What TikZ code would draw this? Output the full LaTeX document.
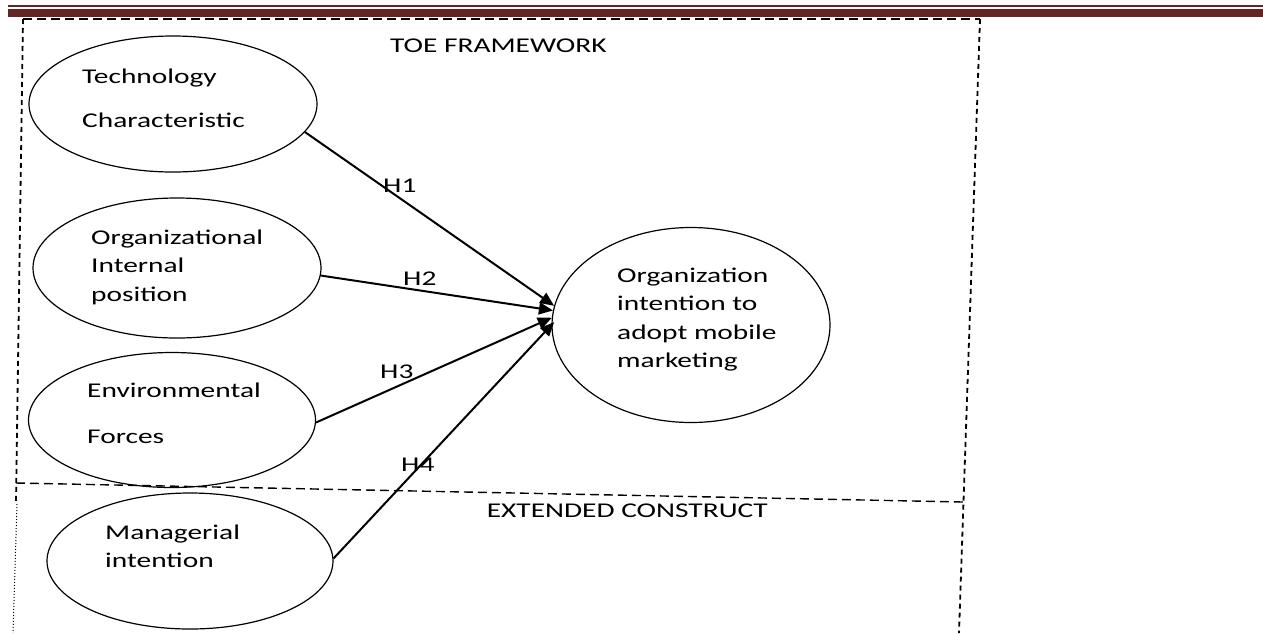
\documentclass[tikz,border=0pt]{standalone}
\usepackage{fontspec}
\setmainfont{Carlito}[FakeStretch=1.4]
\usetikzlibrary{arrows.meta,shapes.geometric}
\definecolor{barred}{RGB}{99,36,35}
\begin{document}
\begin{tikzpicture}[x=1pt,y=-1pt,
  construct/.style={draw,ellipse,line width=1.2pt,inner sep=0pt},
  txt/.style={anchor=base west,inner sep=0pt,font=\fontsize{21}{29}\selectfont},
  link/.style={line width=2pt,-{Triangle[length=14pt,width=12pt]}},
  hdash/.style={line width=1.4pt,dash pattern=on 9pt off 5pt},
  vdash/.style={line width=1.8pt,dash pattern=on 5pt off 4pt}]
\useasboundingbox (0,0) rectangle (1263,633);

% header rules
\fill[barred] (8,5) rectangle (1263,7);
\fill[barred] (8,9) rectangle (1263,16.5);

% framework boundaries
\coordinate (tl) at (23,19);
\coordinate (tr) at (980,19);
\coordinate (br) at (959,633);
\coordinate (ml) at (16,483);
\coordinate (mr) at (963,502);
\coordinate (bl) at (16,502);
\coordinate (dtop) at (17,504);
\coordinate (dbot) at (13,633);
\draw[hdash] (tl) -- (tr);
\draw[vdash] (tr) -- (br);
\draw[vdash] (tl) -- (bl);
\draw[hdash] (ml) -- (mr);
\draw[dotted,line width=1pt] (dtop) -- (dbot);

\node[txt] (toe) at (390,52) {TOE FRAMEWORK};
\node[txt,anchor=base east] (ext) at (768,517) {EXTENDED CONSTRUCT};

% constructs
\node[construct,minimum width=288pt,minimum height=136pt] (tech) at (173,104) {};
\node[construct,minimum width=288pt,minimum height=140pt] (orgint) at (177,268) {};
\node[construct,minimum width=287pt,minimum height=135pt] (env) at (172,420) {};
\node[construct,minimum width=286pt,minimum height=136pt] (mgr) at (190,561) {};
\node[construct,minimum width=278pt,minimum height=195pt] (adopt) at (691,325) {};

\node[txt] (tech1) at (82,83) {Technology};
\node[txt] (tech2) at (82,127) {Characteristic};
\node[txt] (org1) at (91,244) {Organizational};
\node[txt] (org2) at (91,272) {Internal};
\node[txt] (org3) at (91,301) {position};
\node[txt] (env1) at (87,397) {Environmental};
\node[txt] (env2) at (87,443) {Forces};
\node[txt] (mgr1) at (105,539) {Managerial};
\node[txt] (mgr2) at (105,567) {intention};
\node[txt] (ad1) at (617,282) {Organization};
\node[txt] (ad2) at (617,310) {intention to};
\node[txt] (ad3) at (617,339) {adopt mobile};
\node[txt] (ad4) at (617,367) {marketing};

% hypotheses
\draw[link] (tech.-12) -- (adopt.172);
\draw[link] (orgint.-3) -- (adopt.174);
\draw[link] (env.-1) -- (adopt.177);
\draw[link,shorten >=-4pt] (mgr.1) -- (adopt.180);

\node[txt] (h1) at (383,192) {H1};
\node[txt] (h2) at (403,285) {H2};
\node[txt] (h3) at (380,378) {H3};
\node[txt] (h4) at (401,471) {H4};
\end{tikzpicture}
\end{document}
